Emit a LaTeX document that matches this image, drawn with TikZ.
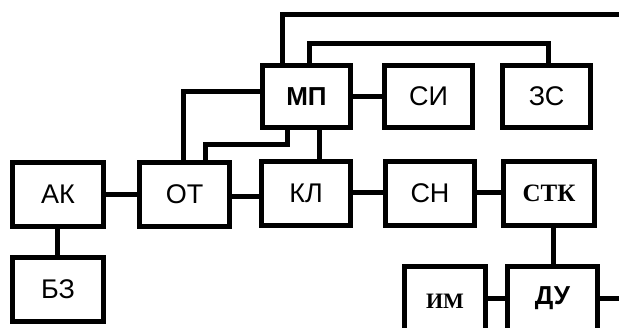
\documentclass[tikz,border=0pt]{standalone}
\usepackage{fontspec}
\setmainfont{Liberation Sans}
\newfontfamily\serifbf{Liberation Serif}
\begin{document}
\begin{tikzpicture}[x=1pt,y=1pt,
  box/.style={draw, line width=5pt, inner sep=0pt, font=\fontsize{27}{27}\selectfont},
  wire/.style={line width=5pt},
  lbl/.style={inner sep=0pt}]
\useasboundingbox (0,0) rectangle (619,328);
\clip (0,0) rectangle (619,328);
% boxes
\node[box, minimum width=91, minimum height=64] (ak)  at (58,133.5)  {АК};
\node[box, minimum width=91, minimum height=64] (bz)  at (58,38.5)   {БЗ};
\node[box, minimum width=90, minimum height=64] (ot)  at (184.5,133.5) {ОТ};
\node[box, minimum width=89, minimum height=64] (kl)  at (306,134.5) {КЛ};
\node[box, minimum width=89, minimum height=64] (sn)  at (430,134.5) {СН};
\node[box, minimum width=91, minimum height=64, font=\serifbf\bfseries\fontsize{25}{25}\selectfont] (stk) at (549,134.5) {СТК};
\node[box, minimum width=88, minimum height=62, font=\bfseries\fontsize{26}{26}\selectfont] (mp)  at (306.5,231.5) {МП};
\node[box, minimum width=88, minimum height=62] (si)  at (428.5,231.5) {СИ};
\node[box, minimum width=88, minimum height=62] (zs)  at (546.5,231.5) {ЗС};
\node[box, minimum width=81, minimum height=100] (im) at (445,11.5) {};
\node[box, minimum width=90, minimum height=100] (du) at (552.5,11.5) {};
\node[lbl, font=\serifbf\bfseries\fontsize{22}{22}\selectfont] (imt) at (445,27) {ИМ};
\node[lbl, font=\bfseries\fontsize{26}{26}\selectfont] (dut) at (552.5,30) {ДУ};
\coordinate (rend1) at (625,29);
\coordinate (rend2) at (625,313);
% connectors
\draw[wire] (ak.east |- 0,133) -- (ot.west |- 0,133);
\draw[wire] (ak.south -| 57,0) -- (bz.north -| 57,0);
\draw[wire] (ot.east |- 0,131) -- (kl.west |- 0,131);
\draw[wire] (kl.east |- 0,135) -- (sn.west |- 0,135);
\draw[wire] (sn.east |- 0,135) -- (stk.west |- 0,135);
\draw[wire] (stk.south -| 553,0) -- (du.north -| 553,0);
\draw[wire] (im.east |- 0,29) -- (du.west |- 0,29);
\draw[wire] (du.east |- 0,29) -- (rend1);
\draw[wire] (mp.east |- 0,231) -- (si.west |- 0,231);
\draw[wire] (mp.south -| 319,0) -- (kl.north -| 319,0);
\draw[wire] (mp.west |- 0,236) -- (183,236) -- (ot.north -| 183,0);
\draw[wire] (mp.south -| 287,0) -- (287,183) -- (205,183) -- (ot.north -| 205,0);
\draw[wire] (mp.north -| 282,0) -- (282,313) -- (rend2);
\draw[wire] (mp.north -| 309,0) -- (309,284) -- (548,284) -- (zs.north -| 548,0);
\end{tikzpicture}
\end{document}
